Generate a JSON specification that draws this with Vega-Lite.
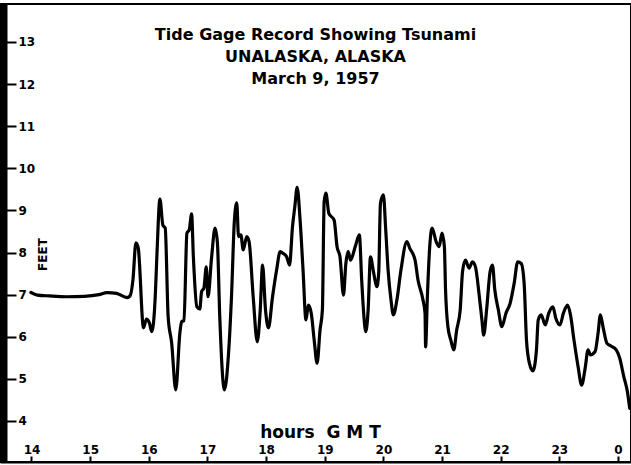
{
  "$schema": "https://vega.github.io/schema/vega-lite/v6.json",
  "width": 631,
  "height": 458,
  "padding": {"left": 0, "top": 4, "right": 0, "bottom": 3},
  "autosize": {"type": "none"},
  "background": "white",
  "config": {"view": {"stroke": "black", "strokeWidth": 2}},
  "title": {
    "text": ["Tide Gage Record Showing Tsunami", "UNALASKA,  ALASKA", "March 9, 1957"],
    "anchor": "middle",
    "baseline": "top",
    "offset": -83,
    "font": "DejaVu Sans",
    "fontSize": 16,
    "fontWeight": "bold",
    "lineHeight": 22,
    "color": "black"
  },
  "data": {"values": [
    {"hour": 13.99, "feet": 7.05}, {"hour": 14.10, "feet": 6.99}, {"hour": 14.30, "feet": 6.97}, {"hour": 14.60, "feet": 6.95},
    {"hour": 14.90, "feet": 6.96}, {"hour": 15.15, "feet": 7.00}, {"hour": 15.29, "feet": 7.05}, {"hour": 15.45, "feet": 7.03},
    {"hour": 15.58, "feet": 6.95}, {"hour": 15.63, "feet": 6.93}, {"hour": 15.68, "feet": 6.97}, {"hour": 15.73, "feet": 7.35},
    {"hour": 15.78, "feet": 8.23}, {"hour": 15.82, "feet": 8.11}, {"hour": 15.91, "feet": 6.21}, {"hour": 15.96, "feet": 6.42},
    {"hour": 16.01, "feet": 6.33}, {"hour": 16.05, "feet": 6.12}, {"hour": 16.11, "feet": 6.95}, {"hour": 16.14, "feet": 7.99},
    {"hour": 16.19, "feet": 9.27}, {"hour": 16.24, "feet": 8.65}, {"hour": 16.28, "feet": 8.58}, {"hour": 16.33, "feet": 6.48},
    {"hour": 16.39, "feet": 5.85}, {"hour": 16.46, "feet": 4.74}, {"hour": 16.53, "feet": 6.09}, {"hour": 16.56, "feet": 6.36},
    {"hour": 16.60, "feet": 6.38}, {"hour": 16.65, "feet": 8.46}, {"hour": 16.69, "feet": 8.54}, {"hour": 16.73, "feet": 8.92},
    {"hour": 16.76, "feet": 7.90}, {"hour": 16.82, "feet": 6.71}, {"hour": 16.87, "feet": 6.66}, {"hour": 16.90, "feet": 7.07},
    {"hour": 16.94, "feet": 7.16}, {"hour": 16.98, "feet": 7.66}, {"hour": 17.01, "feet": 6.95}, {"hour": 17.07, "feet": 7.87},
    {"hour": 17.13, "feet": 8.58}, {"hour": 17.17, "feet": 8.23}, {"hour": 17.21, "feet": 6.48}, {"hour": 17.29, "feet": 4.74},
    {"hour": 17.36, "feet": 5.61}, {"hour": 17.41, "feet": 6.95}, {"hour": 17.46, "feet": 8.77}, {"hour": 17.50, "feet": 9.18},
    {"hour": 17.53, "feet": 8.38}, {"hour": 17.57, "feet": 8.42}, {"hour": 17.61, "feet": 8.06}, {"hour": 17.67, "feet": 8.38},
    {"hour": 17.71, "feet": 8.26}, {"hour": 17.78, "feet": 6.95}, {"hour": 17.85, "feet": 5.88}, {"hour": 17.90, "feet": 6.64},
    {"hour": 17.94, "feet": 7.70}, {"hour": 17.99, "feet": 6.64}, {"hour": 18.04, "feet": 6.21}, {"hour": 18.11, "feet": 6.95},
    {"hour": 18.18, "feet": 7.59}, {"hour": 18.24, "feet": 8.02}, {"hour": 18.29, "feet": 7.98}, {"hour": 18.35, "feet": 7.90},
    {"hour": 18.40, "feet": 7.70}, {"hour": 18.45, "feet": 8.61}, {"hour": 18.49, "feet": 9.09}, {"hour": 18.53, "feet": 9.55},
    {"hour": 18.58, "feet": 8.77}, {"hour": 18.63, "feet": 7.59}, {"hour": 18.68, "feet": 6.40}, {"hour": 18.72, "feet": 6.75},
    {"hour": 18.77, "feet": 6.56}, {"hour": 18.82, "feet": 5.92}, {"hour": 18.87, "feet": 5.37}, {"hour": 18.92, "feet": 6.16},
    {"hour": 18.96, "feet": 6.64}, {"hour": 18.99, "feet": 9.21}, {"hour": 19.02, "feet": 9.41}, {"hour": 19.07, "feet": 8.93},
    {"hour": 19.16, "feet": 8.77}, {"hour": 19.21, "feet": 8.14}, {"hour": 19.26, "feet": 7.90}, {"hour": 19.32, "feet": 6.99},
    {"hour": 19.36, "feet": 7.74}, {"hour": 19.40, "feet": 8.02}, {"hour": 19.44, "feet": 7.82}, {"hour": 19.52, "feet": 8.14},
    {"hour": 19.59, "feet": 8.42}, {"hour": 19.63, "feet": 7.35}, {"hour": 19.66, "feet": 6.64}, {"hour": 19.70, "feet": 6.12},
    {"hour": 19.74, "feet": 6.64}, {"hour": 19.78, "feet": 7.90}, {"hour": 19.83, "feet": 7.55}, {"hour": 19.89, "feet": 7.19},
    {"hour": 19.92, "feet": 7.51}, {"hour": 19.95, "feet": 9.17}, {"hour": 20.00, "feet": 9.37}, {"hour": 20.04, "feet": 8.54},
    {"hour": 20.08, "feet": 7.59}, {"hour": 20.13, "feet": 6.87}, {"hour": 20.17, "feet": 6.52}, {"hour": 20.23, "feet": 6.87},
    {"hour": 20.30, "feet": 7.59}, {"hour": 20.40, "feet": 8.26}, {"hour": 20.45, "feet": 8.10}, {"hour": 20.54, "feet": 7.82},
    {"hour": 20.59, "feet": 7.35}, {"hour": 20.67, "feet": 6.91}, {"hour": 20.71, "feet": 6.56}, {"hour": 20.72, "feet": 5.76},
    {"hour": 20.75, "feet": 6.95}, {"hour": 20.79, "feet": 8.14}, {"hour": 20.83, "feet": 8.58}, {"hour": 20.90, "feet": 8.26},
    {"hour": 20.95, "feet": 8.14}, {"hour": 21.00, "feet": 8.46}, {"hour": 21.04, "feet": 8.14}, {"hour": 21.06, "feet": 7.11},
    {"hour": 21.10, "feet": 6.24}, {"hour": 21.15, "feet": 5.92}, {"hour": 21.20, "feet": 5.69}, {"hour": 21.25, "feet": 6.16},
    {"hour": 21.31, "feet": 6.64}, {"hour": 21.35, "feet": 7.55}, {"hour": 21.40, "feet": 7.82}, {"hour": 21.46, "feet": 7.63},
    {"hour": 21.52, "feet": 7.78}, {"hour": 21.57, "feet": 7.66}, {"hour": 21.63, "feet": 7.03}, {"hour": 21.68, "feet": 6.40},
    {"hour": 21.71, "feet": 6.04}, {"hour": 21.76, "feet": 6.64}, {"hour": 21.82, "feet": 7.55}, {"hour": 21.86, "feet": 7.70},
    {"hour": 21.90, "feet": 7.11}, {"hour": 21.96, "feet": 6.64}, {"hour": 22.02, "feet": 6.24}, {"hour": 22.09, "feet": 6.56},
    {"hour": 22.16, "feet": 6.79}, {"hour": 22.23, "feet": 7.27}, {"hour": 22.29, "feet": 7.78}, {"hour": 22.35, "feet": 7.74},
    {"hour": 22.40, "feet": 7.27}, {"hour": 22.44, "feet": 5.92}, {"hour": 22.49, "feet": 5.37}, {"hour": 22.55, "feet": 5.19},
    {"hour": 22.61, "feet": 5.69}, {"hour": 22.64, "feet": 6.40}, {"hour": 22.69, "feet": 6.52}, {"hour": 22.76, "feet": 6.28},
    {"hour": 22.82, "feet": 6.56}, {"hour": 22.89, "feet": 6.71}, {"hour": 22.94, "feet": 6.44}, {"hour": 23.01, "feet": 6.28},
    {"hour": 23.07, "feet": 6.56}, {"hour": 23.14, "feet": 6.75}, {"hour": 23.19, "feet": 6.52}, {"hour": 23.25, "feet": 5.92},
    {"hour": 23.32, "feet": 5.29}, {"hour": 23.38, "feet": 4.85}, {"hour": 23.44, "feet": 5.25}, {"hour": 23.49, "feet": 5.69},
    {"hour": 23.53, "feet": 5.57}, {"hour": 23.61, "feet": 5.65}, {"hour": 23.66, "feet": 6.08}, {"hour": 23.70, "feet": 6.52},
    {"hour": 23.75, "feet": 6.20}, {"hour": 23.81, "feet": 5.85}, {"hour": 23.88, "feet": 5.78}, {"hour": 23.97, "feet": 5.69},
    {"hour": 24.03, "feet": 5.49}, {"hour": 24.10, "feet": 5.05}, {"hour": 24.16, "feet": 4.70}, {"hour": 24.20, "feet": 4.30}
  ]},
  "mark": {"type": "line", "color": "black", "strokeWidth": 3.2, "strokeJoin": "round", "strokeCap": "round", "interpolate": "monotone"},
  "encoding": {
    "x": {
      "field": "hour", "type": "quantitative",
      "scale": {"domain": [13.463, 24.222], "nice": false, "zero": false},
      "axis": {
        "values": [14, 15, 16, 17, 18, 19, 20, 21, 22, 23, 24],
        "labelExpr": "datum.value == 24 ? '0' : datum.label",
        "grid": false,
        "domain": true, "domainColor": "black", "domainWidth": 2,
        "ticks": true, "tickColor": "black", "tickWidth": 2, "tickSize": -6,
        "labelPadding": -3, "labelBaseline": "alphabetic",
        "labelFont": "DejaVu Sans", "labelFontSize": 12, "labelFontWeight": "bold", "labelColor": "black",
        "labelFlush": false, "labelOverlap": false,
        "title": "hours\u00a0\u00a0G\u00a0M\u00a0T",
        "titleFont": "DejaVu Sans", "titleFontSize": 17, "titleFontWeight": "bold", "titleColor": "black",
        "titleX": 320, "titleY": -30, "titleBaseline": "middle", "titleAlign": "center"
      }
    },
    "y": {
      "field": "feet", "type": "quantitative",
      "scale": {"domain": [3.026, 13.902], "nice": false, "zero": false},
      "axis": {
        "values": [4, 5, 6, 7, 8, 9, 10, 11, 12, 13],
        "grid": false,
        "domain": true, "domainColor": "black", "domainWidth": 14,
        "ticks": true, "tickColor": "black", "tickWidth": 2, "tickSize": -16,
        "labelPadding": -2, "labelAlign": "left", "labelBaseline": "middle",
        "labelFont": "DejaVu Sans", "labelFontSize": 12, "labelFontWeight": "bold", "labelColor": "black",
        "labelFlush": false, "labelOverlap": false,
        "title": "FEET",
        "titleFont": "DejaVu Sans", "titleFontSize": 12, "titleFontWeight": "bold", "titleColor": "black",
        "titleAngle": -90, "titleX": 42, "titleY": 250, "titleBaseline": "middle", "titleAlign": "center"
      }
    }
  }
}
